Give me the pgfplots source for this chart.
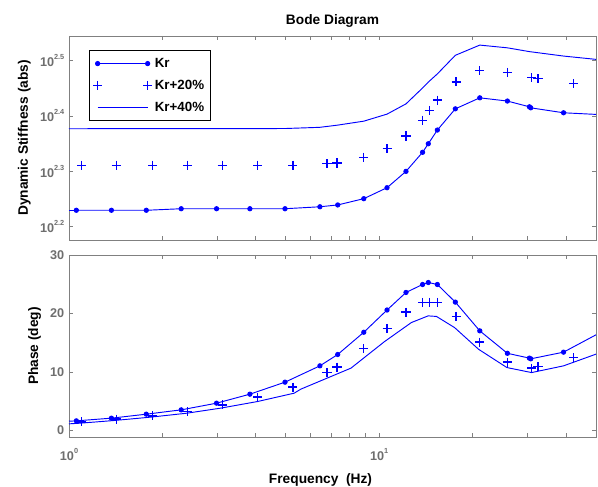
\documentclass[border=0pt]{standalone}
\usepackage{fontspec}
\setmainfont{Liberation Sans}
\usepackage{pgfplots}
\pgfplotsset{compat=1.18}
\definecolor{tickgray}{RGB}{110,110,110}
\definecolor{framegray}{RGB}{128,128,128}
\definecolor{mblue}{RGB}{0,0,255}
\newcommand{\tenpow}[1]{10\raisebox{0.55em}{\fontsize{5.5}{6}\selectfont #1}}

\pgfplotsset{
  every axis/.append style={
    scale only axis, width=395.25pt,
    axis line style={framegray, line width=0.6pt},
    tick style={framegray, line width=0.5pt},
    major tick length=3pt, minor tick length=3pt,
    tick align=inside,
    tick label style={font=\fontsize{9.5}{11}\bfseries, text=tickgray},
    label style={font=\fontsize{10.3}{12}\bfseries},
  },
  kr/.style={color=mblue, line width=0.7pt, mark=*, mark size=1.6pt, mark options={solid, fill=mblue, draw=mblue}},
  krtw/.style={draw=mblue, color=mblue, only marks, mark=+, mark size=3.4pt, line width=1pt, mark options={solid, draw=mblue, line width=1pt}},
  krfo/.style={color=mblue, line width=0.7pt, no marks},
}

\begin{document}
\begin{tikzpicture}
% magnitude
\begin{axis}[
  height=153pt,
  xmode=log, xmin=1, xmax=50,
  xtick={1,10}, minor xtick={2,3,4,5,6,7,8,9,20,30,40},
  ymode=log, ymin=150, ymax=350,
  ytick={158.489,199.526,251.189,316.228},
  yticklabels={\tenpow{2.2},\tenpow{2.3},\tenpow{2.4},\tenpow{2.5}},
  xticklabels={},
  ylabel={Dynamic Stiffness (abs)},
  title={Bode Diagram},
  title style={font=\fontsize{10.3}{12}\bfseries, yshift=-3pt},
  legend style={at={(0.0374,0.93)}, anchor=north west, draw=black, line width=0.6pt,
    font=\fontsize{10}{12}\bfseries, inner xsep=3pt, inner ysep=3.5pt, row sep=4pt},
  legend cell align=left,
  legend image code/.code={\draw[mark repeat=1,#1] plot coordinates {(0pt,0pt)(37.5pt,0pt)};},
]
\coordinate (tl) at (rel axis cs:0,1);
\addplot[kr] coordinates {
  (1.056,169.7)(1.37,169.7)(1.775,169.7)(2.30,170.8)(2.99,170.8)(3.83,170.8)(4.97,170.8)
  (6.44,172.2)(7.35,173.5)(8.92,178.1)(10.6,186.4)(12.2,199.5)(13.8,215.9)(14.4,223.7)
  (15.4,236.8)(17.6,258.6)(21.1,270.7)(25.9,267.1)(30.5,260.8)(30.8,259.7)(39.3,254.4)
};
\addlegendentry{Kr}
\addplot[krtw] coordinates {
  (1.099,204.6)(1.42,204.6)(1.86,204.6)(2.41,204.6)(3.12,204.6)(4.06,204.6)(5.27,204.6)
  (6.79,206.0)(7.31,206.5)(8.92,211.5)(10.6,219.1)(12.2,231.0)(13.8,246.6)(14.5,256.9)
  (15.4,268.2)(17.7,289.3)(21.1,302.9)(25.9,300.9)(31.0,294.2)(32.5,293.0)(42.4,287.0)
};
\addlegendentry{Kr+20\%}
\addplot[krfo] coordinates {
  (1,238.1)(4.97,238.3)(6.44,239.5)(7.35,241.7)(8.92,245.7)(10.6,253.0)(12.2,264.0)
  (13.8,282.0)(14.4,289.0)(15.4,299.0)(17.6,323.0)(21.1,337.0)(25.9,333.2)(30.5,328.0)
  (39.3,322.0)(50,317.6)
};
\addlegendentry{Kr+40\%}
\addplot[krfo, forget plot] coordinates {(1,169.7)(1.056,169.7)};
\addplot[krfo, forget plot] coordinates {(39.3,254.4)(50,252.7)};
\end{axis}
% phase
\begin{axis}[
  at={(0pt,-11.25pt)}, anchor=north west,
  height=136.5pt,
  xmode=log, xmin=1, xmax=50,
  xtick={1,10}, minor xtick={2,3,4,5,6,7,8,9,20,30,40},
  ymin=-1.1, ymax=30,
  ytick={0,10,20,30}, yticklabels={0,10,20,30},
  xticklabels={\tenpow{0},\tenpow{1}},
  xticklabel style={yshift=-5pt},
  ylabel={Phase (deg)},
  xlabel={Frequency\ \ (Hz)},
  xlabel style={xshift=-9pt, yshift=-2.5pt},
]
\coordinate (br) at (rel axis cs:1,0);
\addplot[kr] coordinates {
  (1.056,1.66)(1.37,2.12)(1.775,2.80)(2.30,3.54)(2.99,4.68)(3.83,6.22)(4.97,8.27)
  (6.44,11.06)(7.35,13.0)(8.92,16.8)(10.6,20.6)(12.2,23.6)(13.8,24.96)(14.4,25.3)
  (15.4,24.96)(17.6,21.95)(21.1,17.04)(25.9,13.2)(30.5,12.38)(30.8,12.26)(39.3,13.4)
};
\addplot[krtw] coordinates {
  (1.099,1.49)(1.42,1.95)(1.86,2.51)(2.41,3.25)(3.12,4.39)(4.06,5.71)(5.27,7.42)
  (6.79,9.91)(7.31,10.84)(8.92,14.02)(10.6,17.44)(12.2,20.24)(13.8,21.88)(14.5,21.88)
  (15.4,21.88)(17.7,19.49)(21.1,15.11)(25.9,11.69)(31.0,10.67)(32.5,10.94)(42.4,12.48)
};
\addplot[krfo] coordinates {
  (1,1.15)(1.085,1.26)(1.39,1.71)(1.83,2.29)(2.40,2.97)(3.08,3.83)(4.05,4.96)(5.32,6.39)
  (5.59,7.08)(8.11,10.67)(10.4,15.2)(12.7,18.46)(14.38,19.6)(15.3,19.5)(17.5,17.6)
  (20.9,13.9)(25.8,10.77)(31.0,9.91)(39.3,11.06)(50,13.06)
};
\addplot[krfo] coordinates {(1,1.6)(1.056,1.66)};
\addplot[krfo] coordinates {(39.3,13.4)(50,16.36)};
\end{axis}
\pgfresetboundingbox
\path[use as bounding box] ([shift={(-51.75pt,27pt)}]tl) rectangle ([shift={(1.5pt,-36.75pt)}]br);
\end{tikzpicture}
\end{document}
